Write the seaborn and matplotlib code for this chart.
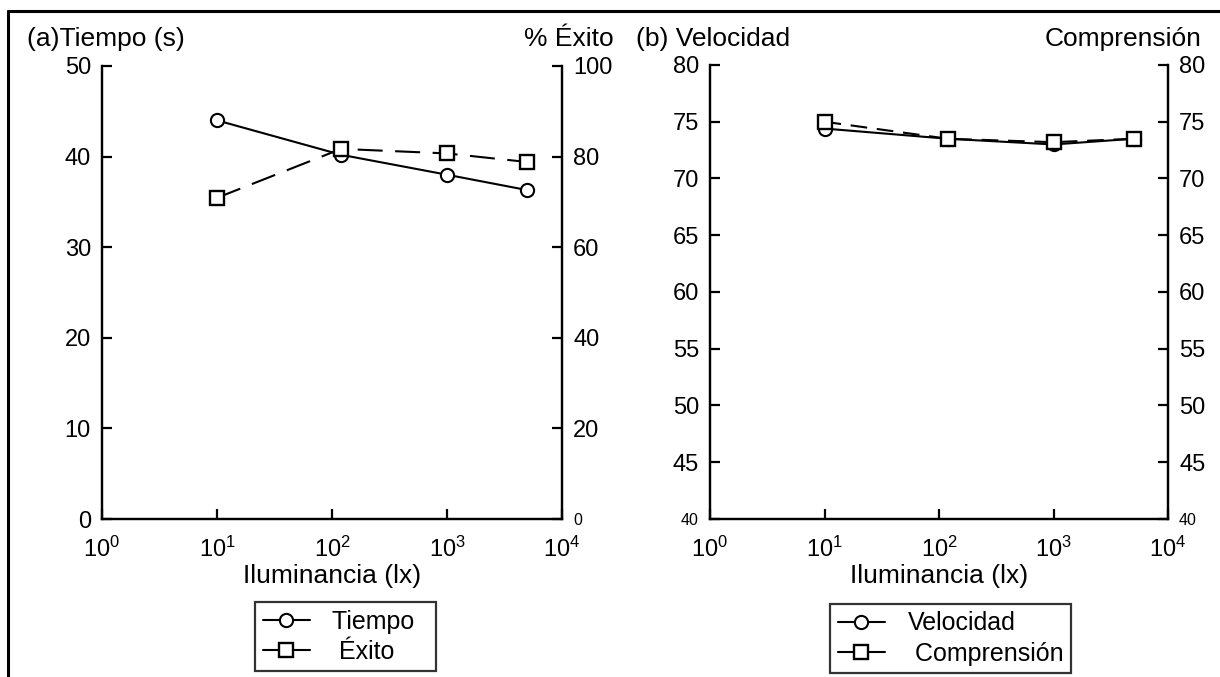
import matplotlib
matplotlib.use("Agg")
import matplotlib.pyplot as plt
from matplotlib.lines import Line2D
import seaborn as sns
import numpy as np
import pandas as pd

# ---- data ----
illum = [10, 120, 1000, 5000]
tiempo = [44.0, 40.2, 38.0, 36.3]
exito = [70.9, 81.7, 80.7, 78.8]
velocidad = [74.4, 73.5, 73.0, 73.5]
comprension = [75.0, 73.5, 73.2, 73.5]
xticks = [1, 10, 100, 1000, 10000]
ticks_a_left = [0, 10, 20, 30, 40, 50]
ticks_a_right = [0, 20, 40, 60, 80, 100]
ticks_b = [40, 45, 50, 55, 60, 65, 70, 75, 80]

sns.set_theme(style="ticks")
plt.rcParams['font.family'] = ['Liberation Sans', 'DejaVu Sans']
plt.rcParams['mathtext.fontset'] = 'custom'
plt.rcParams['mathtext.rm'] = 'Liberation Sans'
plt.rcParams['mathtext.it'] = 'Liberation Sans'
plt.rcParams['lines.scale_dashes'] = False
plt.rcParams['text.color'] = 'black'
plt.rcParams['axes.labelcolor'] = 'black'

FS = 17
LFS = 19
SMALL = 11.5

fig = plt.figure(figsize=(12.2, 6.77), dpi=100)
W, H = 1220, 677

def axrect(x0, x1, ytop, ybot):
    return [x0 / W, 1 - ybot / H, (x1 - x0) / W, (ybot - ytop) / H]

axA = fig.add_axes(axrect(102, 562, 66, 519))
axA2 = axA.twinx()
axB = fig.add_axes(axrect(710, 1168, 65, 519))
axB2 = axB.twinx()

LW = 1.5
circ = dict(marker='o', markersize=9.5, markerfacecolor='white', markeredgecolor='black', markeredgewidth=1.5)
sq = dict(marker='s', markersize=9.5, markerfacecolor='white', markeredgecolor='black', markeredgewidth=1.7)

sns.lineplot(x=illum, y=tiempo, ax=axA, color='black', linewidth=LW, **circ)
sns.lineplot(x=illum, y=exito, ax=axA2, color='black', linewidth=LW, linestyle=(0, (18, 9)), **sq)
sns.lineplot(x=illum, y=velocidad, ax=axB, color='black', linewidth=LW, **circ)
sns.lineplot(x=illum, y=comprension, ax=axB2, color='black', linewidth=LW, linestyle=(0, (12, 7)), **sq)

def style_axes(ax, ax2, lticks, rticks, left_first_small):
    ax.set_xscale('log')
    ax.set_xlim(1, 10000)
    ax.set_xticks(xticks)
    ax.set_xticklabels([rf'$10^{{{i}}}$' for i in range(5)])
    ax.minorticks_off()
    ax2.minorticks_off()
    ax.set_ylim(lticks[0], lticks[-1])
    ax2.set_ylim(rticks[0], rticks[-1])
    ax.set_yticks(lticks)
    ax2.set_yticks(rticks)
    ax.set_yticklabels([str(t) for t in lticks])
    ax2.set_yticklabels([str(t) for t in rticks])
    for a in (ax, ax2):
        a.spines['top'].set_visible(False)
        for s in ('left', 'right', 'bottom'):
            a.spines[s].set_linewidth(1.6)
            a.spines[s].set_color('black')
        a.tick_params(direction='in', length=7, width=1.6, labelsize=FS, colors='black', pad=8)
        a.set_ylabel('')
    ax.tick_params(axis='x', pad=13)
    ax.set_xlabel('Iluminancia (lx)', fontsize=LFS, labelpad=1)
    if left_first_small:
        ax.get_yticklabels()[0].set_fontsize(SMALL)
    ax2.get_yticklabels()[0].set_fontsize(SMALL)

style_axes(axA, axA2, ticks_a_left, ticks_a_right, False)
style_axes(axB, axB2, ticks_b, ticks_b, True)

# panel headers
fig.text(27 / W, 1 - 39 / H, '(a)Tiempo (s)', fontsize=LFS, ha='left', va='center')
fig.text(614 / W, 1 - 39 / H, '% Éxito', fontsize=LFS, ha='right', va='center')
fig.text(636 / W, 1 - 39 / H, '(b) Velocidad', fontsize=LFS, ha='left', va='center')
fig.text(1201 / W, 1 - 39 / H, 'Comprensión', fontsize=LFS, ha='right', va='center')

# legends
legend_specs = [(('Tiempo  ', ' Éxito'), 255, 602), (('Velocidad', ' Comprensión'), 830, 604)]
for (lab1, lab2), x0, top in legend_specs:
    h1 = Line2D([], [], color='black', linewidth=LW, **circ)
    h2 = Line2D([], [], color='black', linewidth=LW, **sq)
    leg = fig.legend([h1, h2], [lab1, lab2], loc='upper left',
                     bbox_to_anchor=(x0 / W, 1 - top / H), fontsize=18,
                     frameon=True, fancybox=False, edgecolor='black',
                     handlelength=1.9, handletextpad=0.9, borderpad=0.3,
                     labelspacing=0.25, borderaxespad=0)
    leg.get_frame().set_linewidth(1.6)

# outer frame (top and left)
fig.add_artist(Line2D([8 / W, 1.0], [1 - 11 / H, 1 - 11 / H], color='black', linewidth=2.2, transform=fig.transFigure))
fig.add_artist(Line2D([8 / W, 8 / W], [0, 1 - 11 / H], color='black', linewidth=2.2, transform=fig.transFigure))

fig.savefig('out.png', dpi=100, facecolor='white')
